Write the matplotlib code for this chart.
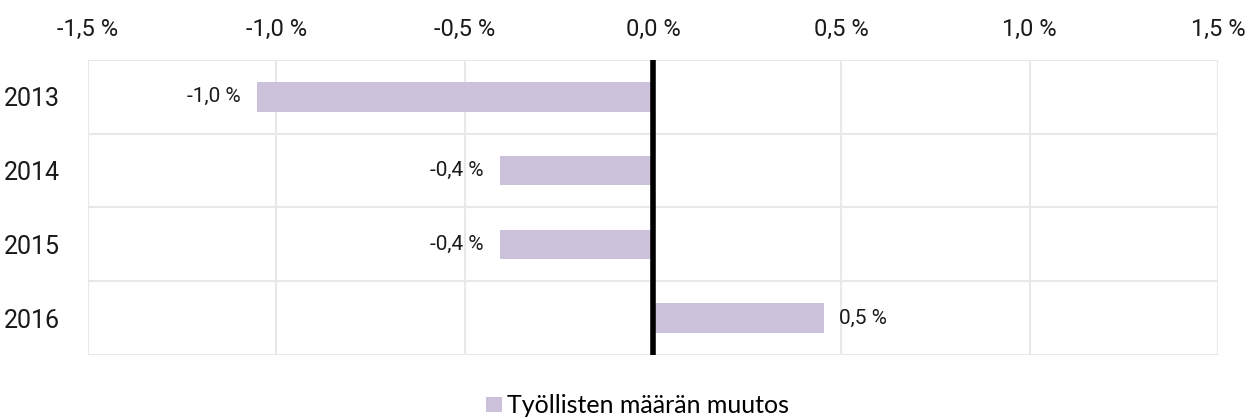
import matplotlib
matplotlib.use("Agg")
import matplotlib.pyplot as plt
from matplotlib.patches import Patch

years = ['2013', '2014', '2015', '2016']
change = [-1.05, -0.405, -0.405, 0.453]
value_labels = ['-1,0 %', '-0,4 %', '-0,4 %', '0,5 %']
xticks = [-1.5, -1.0, -0.5, 0.0, 0.5, 1.0, 1.5]
xtick_labels = ['-1,5 %', '-1,0 %', '-0,5 %', '0,0 %', '0,5 %', '1,0 %', '1,5 %']
legend_label = 'Työllisten määrän muutos'

bar_color = '#CBC1DB'
grid_color = '#E8E8E8'
text_color = '#1a1a1a'

plt.rcParams['font.family'] = ['Roboto', 'DejaVu Sans']

fig = plt.figure(figsize=(12.57, 4.19), dpi=100)
ax = fig.add_axes([0.070, 0.153, 0.899, 0.704])

pos = list(range(len(years)))
ax.barh(pos, change, height=0.4, color=bar_color, zorder=2)

for p, v, lab in zip(pos, change, value_labels):
    if v < 0:
        ax.annotate(lab, (v, p), xytext=(-12, 0), textcoords='offset points',
                    ha='right', va='center', fontsize=15, color=text_color)
    else:
        ax.annotate(lab, (v, p), xytext=(11, 0), textcoords='offset points',
                    ha='left', va='center', fontsize=15, color=text_color)

ax.set_xlim(-1.5, 1.5)
ax.set_ylim(3.5, -0.5)
ax.set_xticks(xticks)
ax.set_xticklabels(xtick_labels, fontsize=17, color=text_color)
ax.xaxis.tick_top()
ax.set_yticks(pos)
ax.set_yticklabels(years, fontsize=18, color=text_color)
ax.tick_params(axis='both', length=0)
ax.tick_params(axis='x', pad=13.5)
ax.tick_params(axis='y', pad=20)

# grid: vertical at ticks, horizontal at category boundaries
for x in xticks:
    ax.axvline(x, color=grid_color, lw=1.5, zorder=0)
for y in [-0.5, 0.5, 1.5, 2.5, 3.5]:
    ax.axhline(y, color=grid_color, lw=1.5, zorder=0)
for s in ax.spines.values():
    s.set_visible(False)

ax.axvline(0, color='black', lw=4, zorder=3)

handles = [Patch(facecolor=bar_color, edgecolor='none')]
fig.legend(handles, [legend_label], loc='center', bbox_to_anchor=(0.507, 0.032),
           frameon=False, handlelength=0.64, handleheight=0.56,
           handletextpad=0.2, borderpad=0, prop={'family': 'Lato', 'size': 18})

fig.savefig('out.png', dpi=100)
